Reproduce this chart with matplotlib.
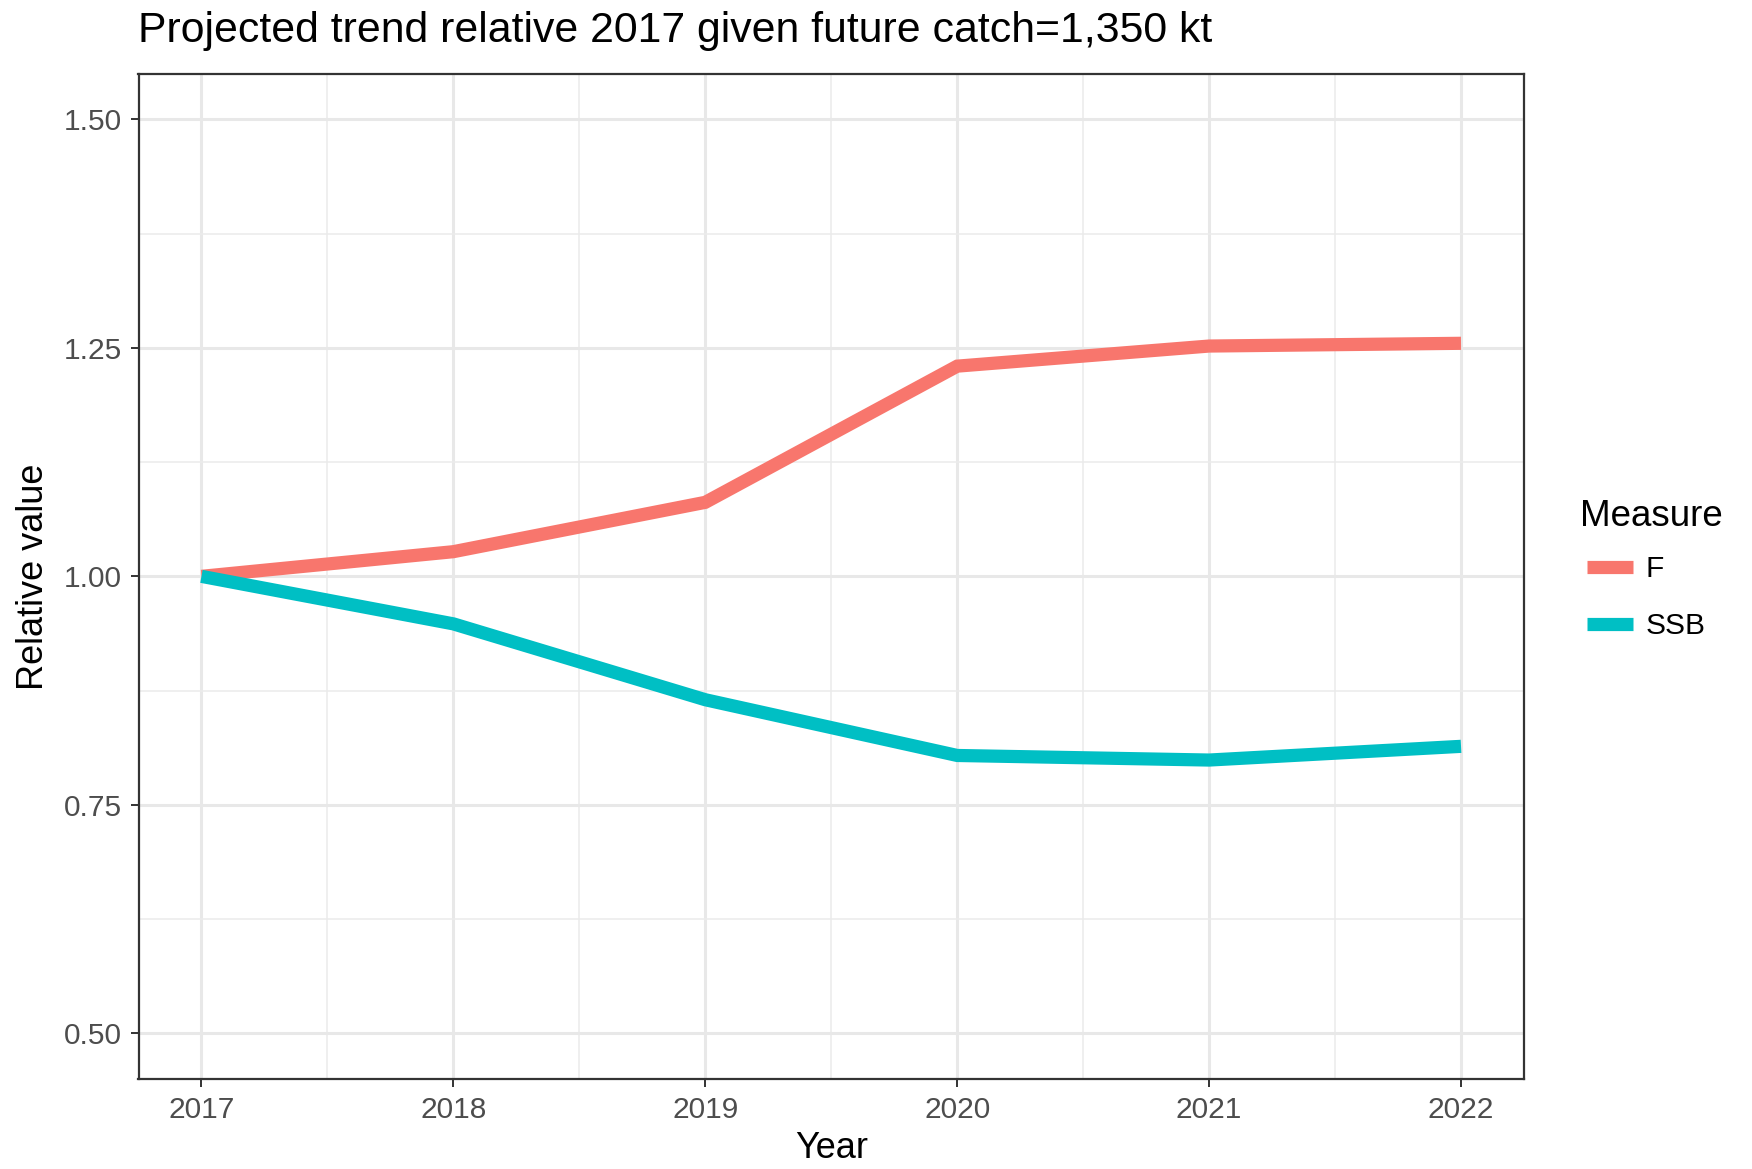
import matplotlib
matplotlib.use("Agg")
import matplotlib.pyplot as plt
from matplotlib.ticker import FixedLocator

plt.rcParams['font.family'] = ['Liberation Sans', 'DejaVu Sans']

years = [2017, 2018, 2019, 2020, 2021, 2022]
f_rel = [1.000, 1.027, 1.081, 1.230, 1.252, 1.255]
ssb_rel = [1.000, 0.948, 0.865, 0.804, 0.799, 0.814]
measures = ["F", "SSB"]
colors = ["#F8766D", "#00BFC4"]
y_ticks = [0.50, 0.75, 1.00, 1.25, 1.50]
y_minor = [0.625, 0.875, 1.125, 1.375]
x_minor = [2017.5, 2018.5, 2019.5, 2020.5, 2021.5]

W, H = 1752, 1169
fig = plt.figure(figsize=(W / 100, H / 100), dpi=100)
fig.patch.set_facecolor("white")

left, right, top, bottom = 138.5, 1524, 73.7, 1079
ax = fig.add_axes([left / W, 1 - bottom / H, (right - left) / W, (bottom - top) / H])

for vals, name, col in zip([f_rel, ssb_rel], measures, colors):
    ax.plot(years, vals, color=col, lw=9.5, label=name, solid_capstyle="butt",
            solid_joinstyle="miter", zorder=3)

ax.set_xlim(2016.75, 2022.25)
ax.set_ylim(0.45, 1.55)
ax.set_xticks(years)
ax.set_xticklabels([str(y) for y in years])
ax.set_yticks(y_ticks)
ax.set_yticklabels([f"{v:.2f}" for v in y_ticks])
ax.xaxis.set_minor_locator(FixedLocator(x_minor))
ax.yaxis.set_minor_locator(FixedLocator(y_minor))

ax.grid(which="major", color="#E8E8E8", lw=2.2, zorder=0)
ax.grid(which="minor", color="#EBEBEB", lw=1.1, zorder=0)
ax.set_axisbelow(True)
ax.tick_params(which="minor", length=0)
ax.tick_params(which="major", length=6, width=1.4, color="#333333",
               labelsize=21.5, labelcolor="#4D4D4D", pad=6)
for sp in ax.spines.values():
    sp.set_color("#333333")
    sp.set_linewidth(1.6)

fig.text(left / W, 1 - 31 / H, "Projected trend relative 2017 given future catch=1,350 kt",
         ha="left", va="center", fontsize=30.8, color="black")
fig.text((left + right) / 2 / W, 1 - 1148 / H, "Year", ha="center", va="center",
         fontsize=26, color="black")
fig.text(33.5 / W, 1 - (top + bottom) / 2 / H, "Relative value", ha="center", va="center",
         rotation=90, fontsize=26, color="black")

# legend: title as its own text, entries below it
fig.text(1580 / W, 1 - 516 / H, "Measure", ha="left", va="center",
         fontsize=26.5, color="black")
leg = ax.legend(loc="upper left", bbox_to_anchor=(1587 / W, 1 - 555.5 / H),
                bbox_transform=fig.transFigure, frameon=False, fontsize=21.5,
                handlelength=1.55, handletextpad=0.4,
                labelspacing=0.96, borderpad=0, borderaxespad=0)
for line in leg.get_lines():
    line.set_linewidth(9.5)

fig.savefig("out.png", dpi=100, facecolor="white")
